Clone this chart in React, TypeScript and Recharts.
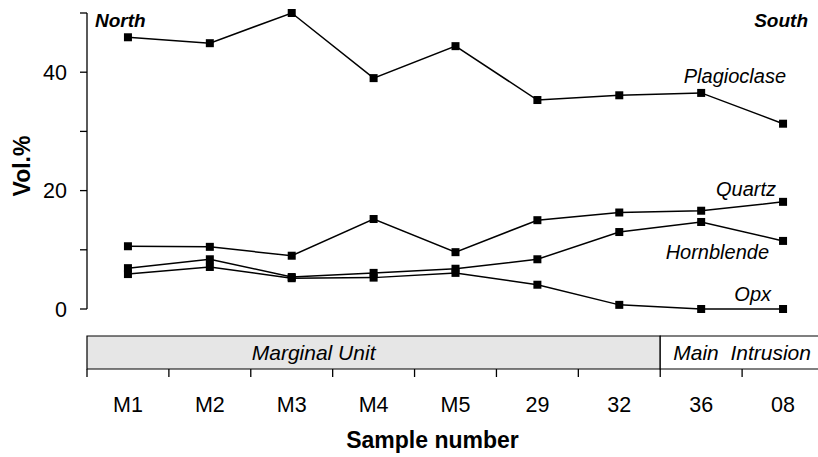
import {
  ComposedChart,
  Line,
  XAxis,
  YAxis,
  ReferenceArea,
  ReferenceLine,
  LabelList,
} from "recharts";

const samples = ["M1", "M2", "M3", "M4", "M5", "29", "32", "36", "08"];
const plagioclase = [45.9, 44.9, 50.0, 39.0, 44.4, 35.3, 36.1, 36.5, 31.3];
const quartz = [10.6, 10.5, 9.0, 15.2, 9.6, 15.0, 16.3, 16.6, 18.1];
const hornblende = [6.9, 8.4, 5.4, 6.1, 6.8, 8.4, 13.0, 14.7, 11.5];
const opx = [5.9, 7.1, 5.2, 5.3, 6.1, 4.1, 0.7, 0, 0];
const yTicks = [0, 10, 20, 30, 40, 50];

const FONT = "'Liberation Sans', Arial, sans-serif";
const CHART_W = 830;
const CHART_H = 457;
const MARGIN = { top: 13, right: 6, left: 0, bottom: 8 };
const Y_AXIS_W = 87;
const X_AXIS_H = 140;
const PLOT_W = CHART_W - MARGIN.right - MARGIN.left - Y_AXIS_W;
const PLOT_H = CHART_H - MARGIN.top - MARGIN.bottom - X_AXIS_H;
const BAND = PLOT_W / samples.length;
const PX_PER_UNIT = PLOT_H / 50;

// unit box under the plot, in pixels below the x axis
const BOX_TOP = 27;
const BOX_BOTTOM = 60;

const data = samples.map((s, i) => ({
  sample: s,
  plagioclase: plagioclase[i],
  quartz: quartz[i],
  hornblende: hornblende[i],
  opx: opx[i],
}));

const series = [
  { key: "plagioclase", name: "Plagioclase", dx: 3, dy: -41 },
  { key: "quartz", name: "Quartz", dx: -7, dy: -6 },
  { key: "hornblende", name: "Hornblende", dx: -14, dy: 18 },
  { key: "opx", name: "Opx", dx: -12, dy: -8 },
];

function SquareDot(props: any) {
  const { cx, cy, index } = props;
  if (cx == null || cy == null) return <g key={index} />;
  return <rect key={index} x={cx - 4} y={cy - 4} width={8} height={8} fill="#000" />;
}

function SampleTick(props: any) {
  const { x, y, payload } = props;
  const half = BAND / 2;
  return (
    <g>
      <line x1={x - half} x2={x - half} y1={y + BOX_BOTTOM} y2={y + BOX_BOTTOM + 8} stroke="#000" strokeWidth={1.3} />
      <text x={x} y={y + 103} textAnchor="middle" fontSize={21.5} fontFamily={FONT} fill="#000">
        {payload.value}
      </text>
    </g>
  );
}

function SampleTitle(props: any) {
  const vb = props.viewBox ?? { x: Y_AXIS_W, y: MARGIN.top + PLOT_H, width: PLOT_W, height: X_AXIS_H };
  return (
    <text x={vb.x + vb.width / 2 - 23} y={vb.y + 139} textAnchor="middle" fontSize={23} fontWeight="bold" fontFamily={FONT} fill="#000">
      Sample number
    </text>
  );
}

function VolTitle(props: any) {
  const vb = props.viewBox ?? { x: 0, y: MARGIN.top, width: Y_AXIS_W, height: PLOT_H };
  const cx = vb.x + 22;
  const cy = vb.y + vb.height / 2 + 5;
  return (
    <text x={cx} y={cy} transform={`rotate(-90, ${cx}, ${cy})`} textAnchor="middle" dominantBaseline="central" fontSize={23} fontWeight="bold" fontFamily={FONT} fill="#000">
      Vol.%
    </text>
  );
}

function CornerLabels(props: any) {
  const vb = props.viewBox ?? { x: Y_AXIS_W, y: MARGIN.top, width: PLOT_W, height: 0 };
  return (
    <g fontSize={19} fontWeight="bold" fontStyle="italic" fontFamily={FONT} fill="#000">
      <text x={vb.x + 8} y={vb.y + 14}>North</text>
      <text x={vb.x + vb.width - 16} y={vb.y + 14} textAnchor="end">South</text>
    </g>
  );
}

function groupLabel(text: string, shift: number) {
  return (props: any) => {
    const vb = props.viewBox;
    if (!vb) return null;
    return (
      <text
        x={vb.x + vb.width / 2 + shift}
        y={vb.y + vb.height / 2 + 7.5}
        textAnchor="middle"
        fontSize={21}
        fontStyle="italic"
        fontFamily={FONT}
        fill="#000"
        style={{ whiteSpace: "pre" }}
      >
        {text}
      </text>
    );
  };
}

function endLabel(name: string, dx: number, dy: number) {
  return (props: any) => {
    const { x, y, index } = props;
    if (index !== samples.length - 1) return null;
    return (
      <text x={x + dx} y={y + dy} textAnchor="end" fontSize={20} fontStyle="italic" fontFamily={FONT} fill="#000">
        {name}
      </text>
    );
  };
}

export default function App() {
  return (
    <div style={{ position: "absolute", left: 0, top: 0, width: 818, height: 457, overflow: "hidden", background: "#fff" }}>
      <ComposedChart width={CHART_W} height={CHART_H} data={data} margin={MARGIN}>
        <ReferenceArea
          x1="M1"
          x2="32"
          y1={-BOX_TOP / PX_PER_UNIT}
          y2={-BOX_BOTTOM / PX_PER_UNIT}
          ifOverflow="visible"
          fill="#e6e6e6"
          fillOpacity={1}
          stroke="#000"
          strokeWidth={1.2}
          label={{ content: groupLabel("Marginal Unit", -60) }}
        />
        <ReferenceArea
          x1="36"
          x2="08"
          y1={-BOX_TOP / PX_PER_UNIT}
          y2={-BOX_BOTTOM / PX_PER_UNIT}
          ifOverflow="visible"
          fill="#fff"
          fillOpacity={1}
          stroke="#000"
          strokeWidth={1.2}
          label={{ content: groupLabel("Main  Intrusion", 0) }}
        />
        <ReferenceLine y={50} stroke="none" ifOverflow="visible" label={<CornerLabels />} />
        <XAxis
          dataKey="sample"
          scale="band"
          height={X_AXIS_H}
          axisLine={false}
          tickLine={false}
          tickSize={0}
          tickMargin={0}
          interval={0}
          tick={<SampleTick />}
          label={<SampleTitle />}
        />
        <YAxis
          width={Y_AXIS_W}
          domain={[0, 50]}
          ticks={yTicks}
          tickSize={7}
          tickMargin={13}
          tickFormatter={(v: number) => (v % 20 === 0 ? String(v) : "")}
          tick={{ fontSize: 21.5, fontFamily: FONT, fill: "#000" }}
          axisLine={{ stroke: "#000", strokeWidth: 1.3 }}
          tickLine={{ stroke: "#000", strokeWidth: 1.3 }}
          label={<VolTitle />}
        />
        {series.map((s) => (
          <Line
            key={s.key}
            dataKey={s.key}
            stroke="#000"
            strokeWidth={1.5}
            dot={<SquareDot />}
            activeDot={false}
            isAnimationActive={false}
          >
            <LabelList dataKey={s.key} content={endLabel(s.name, s.dx, s.dy)} />
          </Line>
        ))}
      </ComposedChart>
    </div>
  );
}
